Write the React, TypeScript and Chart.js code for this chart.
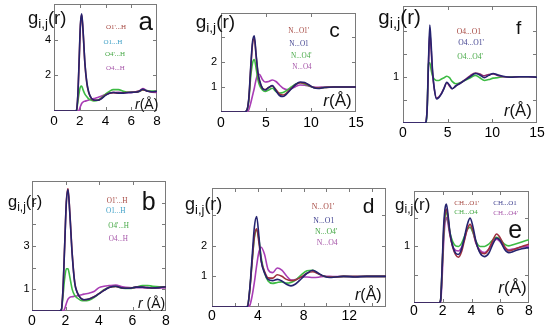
import React, { useEffect, useRef } from 'react';
import { Chart, registerables } from 'chart.js';
Chart.register(...registerables);

const NAVY = '#25236f';
const RED = '#9e2f3f';
const GREEN = '#3dbb44';
const PURPLE = '#a93db5';

const T_RED = '#a5463f';
const T_CYAN = '#3d9fc6';
const T_GREEN = '#45a845';
const T_PURPLE = '#a656a9';
const T_NAVY = '#3e3f8e';

// ---- panel a : O...H ----
const rA = [0, 1.6, 1.75, 1.85, 1.95, 2.05, 2.15, 2.25, 2.4, 2.55, 2.7, 2.9, 3.1, 3.4, 3.7, 4.0, 4.3, 4.6, 5.0, 5.4, 5.8, 6.2, 6.6, 6.9, 7.2, 7.6, 8.0];
const aO1H = [0, 0, 0.05, 0.9, 2.8, 4.85, 5.45, 4.6, 2.7, 1.6, 1.05, 0.72, 0.62, 0.6, 0.7, 0.88, 1.0, 1.04, 1.0, 1.0, 1.04, 1.05, 1.1, 1.22, 1.12, 1.08, 1.1];
const aO1pH = [0, 0, 0.05, 0.85, 2.7, 4.75, 5.4, 4.55, 2.65, 1.55, 1.02, 0.7, 0.6, 0.6, 0.72, 0.9, 1.0, 1.03, 1.0, 1.02, 1.05, 1.06, 1.1, 1.2, 1.12, 1.08, 1.1];
const aO4pH = [0, 0, 0.04, 0.5, 1.0, 1.35, 1.4, 1.2, 0.95, 0.8, 0.68, 0.6, 0.57, 0.6, 0.75, 0.95, 1.1, 1.2, 1.2, 1.1, 1.05, 1.05, 1.1, 1.18, 1.15, 1.12, 1.12];
const aO4H = [0, 0, 0, 0, 0.05, 0.25, 0.42, 0.5, 0.55, 0.58, 0.62, 0.66, 0.7, 0.76, 0.84, 0.92, 1.0, 1.04, 1.05, 1.03, 1.02, 1.05, 1.12, 1.26, 1.15, 1.05, 1.04];
const aXTicks = [0, 2, 4, 6, 8];
const aYTicks = [2, 4];
const aXLabels = [0, 2, 4, 6, 8];
const aYLabels = [2, 4];

// ---- panel b : O...H ----
const rB = [0, 1.6, 1.75, 1.85, 1.95, 2.05, 2.15, 2.25, 2.4, 2.55, 2.7, 2.9, 3.1, 3.4, 3.7, 4.0, 4.3, 4.6, 5.0, 5.4, 5.8, 6.2, 6.6, 6.9, 7.2, 7.6, 8.0];
const bO1H = [0, 0, 0.05, 1.0, 3.0, 5.0, 5.6, 4.6, 2.6, 1.3, 0.85, 0.6, 0.52, 0.55, 0.65, 0.8, 0.95, 1.08, 1.14, 1.06, 1.05, 1.1, 1.1, 1.08, 1.06, 1.08, 1.12];
const bO1pH = [0, 0, 0.05, 1.0, 3.0, 5.05, 5.65, 4.65, 2.65, 1.32, 0.86, 0.6, 0.52, 0.55, 0.66, 0.8, 0.96, 1.08, 1.13, 1.06, 1.05, 1.1, 1.1, 1.08, 1.06, 1.08, 1.12];
const bO4pH = [0, 0, 0.04, 0.7, 1.5, 1.95, 1.95, 1.6, 1.0, 0.72, 0.6, 0.5, 0.47, 0.5, 0.62, 0.8, 0.98, 1.1, 1.13, 1.05, 1.04, 1.1, 1.18, 1.18, 1.14, 1.12, 1.12];
const bO4H = [0, 0, 0, 0, 0.1, 0.35, 0.55, 0.63, 0.66, 0.68, 0.7, 0.74, 0.78, 0.82, 0.9, 1.08, 1.14, 1.17, 1.2, 1.12, 1.08, 1.07, 1.07, 1.06, 1.06, 1.06, 1.07];
const bXTicks = [0, 2, 4, 6, 8];
const bYTicks = [1, 2, 3, 4, 5];
const bXLabels = [0, 2, 4, 6, 8];
const bYLabels = [1, 3];

// ---- panel c : N...O ----
const rC = [0, 2.6, 2.9, 3.1, 3.3, 3.5, 3.7, 3.9, 4.1, 4.3, 4.6, 4.9, 5.3, 5.7, 6.1, 6.5, 6.9, 7.3, 7.8, 8.3, 8.8, 9.3, 9.8, 10.3, 10.8, 11.5, 12.5, 13.5, 15];
const cNO1 = [0, 0, 0.1, 0.6, 1.8, 2.8, 3.05, 2.3, 1.6, 1.25, 0.95, 0.88, 0.98, 1.06, 0.85, 0.66, 0.62, 0.72, 0.92, 1.1, 1.2, 1.18, 1.08, 0.97, 0.94, 0.98, 1.0, 1.0, 1.0];
const cNO1p = [0, 0, 0.1, 0.55, 1.7, 2.7, 2.95, 2.25, 1.55, 1.2, 0.95, 0.9, 0.98, 1.04, 0.9, 0.72, 0.68, 0.76, 0.94, 1.1, 1.17, 1.15, 1.06, 0.98, 0.96, 0.98, 1.0, 1.0, 1.0];
const cNO4p = [0, 0, 0.08, 0.5, 1.4, 1.95, 2.1, 1.75, 1.3, 1.05, 0.88, 0.82, 0.88, 0.95, 0.82, 0.76, 0.78, 0.86, 1.0, 1.12, 1.17, 1.12, 1.04, 0.98, 0.97, 0.98, 1.0, 1.0, 1.0];
const cNO4 = [0, 0, 0, 0.1, 0.35, 0.65, 0.95, 1.3, 1.52, 1.5, 1.3, 1.2, 1.22, 1.28, 1.22, 1.08, 0.95, 0.9, 0.93, 1.02, 1.08, 1.07, 1.03, 1.0, 0.99, 1.0, 1.0, 1.0, 1.0];
const cXTicks = [0, 5, 10, 15];
const cYTicks = [1, 2, 3];
const cXLabels = [0, 5, 10, 15];
const cYLabels = [1, 2];

// ---- panel d : N...O ----
const rD = [0, 2.9, 3.1, 3.3, 3.5, 3.7, 3.9, 4.1, 4.3, 4.6, 4.9, 5.3, 5.7, 6.1, 6.5, 6.9, 7.3, 7.8, 8.3, 8.8, 9.3, 9.8, 10.3, 10.8, 11.5, 12.5, 13.5, 15.2];
const dNO1 = [0, 0, 0.02, 0.6, 1.6, 2.6, 2.95, 2.3, 1.5, 1.1, 0.9, 0.86, 0.9, 0.85, 0.74, 0.69, 0.75, 0.92, 1.1, 1.2, 1.1, 1.0, 0.96, 0.98, 1.0, 0.98, 1.0, 1.0];
const dNO1p = [0, 0, 0.02, 0.55, 1.45, 2.3, 2.55, 2.1, 1.5, 1.15, 0.95, 0.94, 1.05, 1.0, 0.9, 0.86, 0.88, 0.98, 1.1, 1.15, 1.08, 1.0, 0.98, 0.98, 1.0, 0.99, 1.0, 1.0];
const dNO4p = [0, 0, 0.02, 0.55, 1.45, 2.25, 2.5, 2.2, 1.6, 1.1, 0.85, 0.77, 0.8, 0.82, 0.78, 0.8, 0.88, 1.05, 1.18, 1.2, 1.08, 1.0, 0.97, 0.98, 1.0, 0.99, 1.0, 1.0];
const dNO4 = [0, 0, 0, 0.05, 0.35, 0.8, 1.35, 1.8, 1.95, 1.7, 1.22, 1.12, 1.27, 1.2, 1.02, 0.88, 0.9, 0.98, 0.98, 0.96, 0.97, 1.0, 1.0, 0.99, 1.0, 1.0, 1.0, 1.0];
const dXTicks = [0, 2, 4, 6, 8, 10, 12, 14];
const dYTicks = [1, 2, 3];
const dXLabels = [0, 4, 8, 12];
const dYLabels = [1, 2];

// ---- panel e : CH...O ----
const rE = [0, 1.75, 1.85, 1.95, 2.05, 2.15, 2.25, 2.35, 2.5, 2.7, 2.9, 3.1, 3.3, 3.5, 3.7, 3.9, 4.1, 4.3, 4.6, 4.9, 5.2, 5.5, 5.75, 6.0, 6.3, 6.6, 7.0, 7.5, 8.0];
const eCHO1 = [0, 0, 0.05, 0.6, 1.3, 1.65, 1.75, 1.6, 1.25, 1.0, 0.88, 0.86, 0.95, 1.15, 1.38, 1.5, 1.35, 1.1, 0.88, 0.82, 0.88, 1.05, 1.15, 1.1, 0.95, 0.89, 0.92, 0.96, 0.98];
const eCHO1p = [0, 0, 0.05, 0.55, 1.2, 1.55, 1.66, 1.55, 1.22, 0.98, 0.85, 0.81, 0.9, 1.1, 1.3, 1.39, 1.28, 1.08, 0.9, 0.87, 0.95, 1.12, 1.22, 1.15, 1.0, 0.92, 0.95, 1.0, 1.04];
const eCHO4 = [0, 0, 0.05, 0.55, 1.15, 1.5, 1.61, 1.5, 1.25, 1.08, 1.01, 1.0, 1.05, 1.17, 1.3, 1.34, 1.25, 1.1, 1.0, 1.0, 1.04, 1.12, 1.16, 1.12, 1.04, 1.01, 1.04, 1.08, 1.12];
const eCHO4p = [0, 0, 0.02, 0.4, 1.0, 1.4, 1.51, 1.42, 1.2, 1.0, 0.93, 0.92, 0.98, 1.12, 1.3, 1.34, 1.25, 1.06, 0.93, 0.89, 0.95, 1.08, 1.13, 1.08, 0.97, 0.94, 0.96, 0.99, 1.01];
const eXTicks = [0, 2, 4, 6, 8];
const eYTicks = [0.5, 1, 1.5];
const eXLabels = [0, 2, 4, 6, 8];
const eYLabels = [1];

// ---- panel f : O4...O ----
const rF = [0, 2.5, 2.7, 2.85, 3.0, 3.15, 3.3, 3.5, 3.75, 4.0, 4.3, 4.6, 4.9, 5.2, 5.5, 5.9, 6.4, 6.9, 7.5, 8.1, 8.6, 9.1, 9.6, 10.1, 10.6, 11.2, 12, 13, 14, 15];
const fO4O1p = [0, 0, 0.3, 1.3, 2.12, 1.7, 1.15, 0.75, 0.52, 0.55, 0.63, 0.75, 0.88, 0.82, 0.74, 0.8, 0.86, 0.92, 1.0, 1.07, 1.04, 0.98, 1.03, 1.07, 1.04, 1.01, 0.99, 1.0, 1.0, 0.99];
const fO4O1 = [0, 0, 0.3, 1.25, 1.95, 1.6, 1.1, 0.74, 0.54, 0.56, 0.64, 0.76, 0.87, 0.8, 0.74, 0.8, 0.86, 0.93, 1.02, 1.08, 1.06, 1.02, 1.05, 1.06, 1.03, 1.0, 0.99, 1.0, 1.0, 0.99];
const fO4O4p = [0, 0, 0.25, 1.28, 1.3, 1.15, 1.02, 0.95, 0.92, 0.92, 0.95, 0.98, 1.01, 0.98, 0.9, 0.85, 0.87, 0.92, 0.97, 1.03, 0.98, 0.92, 0.94, 0.97, 0.98, 1.0, 1.0, 1.0, 1.0, 1.0];
const fXTicks = [0, 5, 10, 15];
const fYTicks = [0.5, 1, 1.5, 2];
const fXLabels = [0, 5, 10, 15];
const fYLabels = [1];

const SANS = '"Liberation Sans", Arial, sans-serif';
const SERIF = '"Liberation Serif", "Times New Roman", serif';
const PADL = 30, PADR = 12, PADT = 8, PADB = 26;
const FRAME = '#7a7a7a';
const TICK_TXT = '#000';

type Series = { r: number[]; g: number[]; color: string };
type PanelCfg = {
  L: number; R: number; T: number; B: number;
  xMax: number; yMax: number;
  xTicks: number[]; yTicks: number[]; xShow: number[]; yShow: number[];
  xFont: number; yFont: number; xPad: number; yPad: number;
  series: Series[];
};

const panels: PanelCfg[] = [
  { L: 54, R: 157, T: 4, B: 111, xMax: 8, yMax: 6, xTicks: aXTicks, yTicks: aYTicks, xShow: aXLabels, yShow: aYLabels, xFont: 13.5, yFont: 11, xPad: 2, yPad: 3,
    series: [{ r: rA, g: aO1H, color: NAVY }, { r: rA, g: aO1pH, color: RED }, { r: rA, g: aO4pH, color: GREEN }, { r: rA, g: aO4H, color: PURPLE }] },
  { L: 32, R: 166, T: 181, B: 311, xMax: 8, yMax: 6, xTicks: bXTicks, yTicks: bYTicks, xShow: bXLabels, yShow: bYLabels, xFont: 14, yFont: 11, xPad: 2, yPad: 2.5,
    series: [{ r: rB, g: bO1H, color: NAVY }, { r: rB, g: bO1pH, color: RED }, { r: rB, g: bO4pH, color: GREEN }, { r: rB, g: bO4H, color: PURPLE }] },
  { L: 221, R: 356, T: 13, B: 112, xMax: 15, yMax: 3.96, xTicks: cXTicks, yTicks: cYTicks, xShow: cXLabels, yShow: cYLabels, xFont: 14, yFont: 11, xPad: 3, yPad: 4,
    series: [{ r: rC, g: cNO1, color: NAVY }, { r: rC, g: cNO1p, color: RED }, { r: rC, g: cNO4p, color: GREEN }, { r: rC, g: cNO4, color: PURPLE }] },
  { L: 403, R: 537, T: 6, B: 123, xMax: 15, yMax: 2.53, xTicks: fXTicks, yTicks: fYTicks, xShow: fXLabels, yShow: fYLabels, xFont: 14, yFont: 11, xPad: 2, yPad: 4,
    series: [{ r: rF, g: fO4O1p, color: NAVY }, { r: rF, g: fO4O1, color: '#8e2a6e' }, { r: rF, g: fO4O4p, color: GREEN }] },
  { L: 212, R: 386, T: 188, B: 307, xMax: 15.2, yMax: 3.88, xTicks: dXTicks, yTicks: dYTicks, xShow: dXLabels, yShow: dYLabels, xFont: 14, yFont: 11, xPad: 1, yPad: 5,
    series: [{ r: rD, g: dNO1, color: NAVY }, { r: rD, g: dNO1p, color: RED }, { r: rD, g: dNO4p, color: GREEN }, { r: rD, g: dNO4, color: PURPLE }] },
  { L: 414, R: 529, T: 191, B: 303, xMax: 8, yMax: 1.98, xTicks: eXTicks, yTicks: eYTicks, xShow: eXLabels, yShow: eYLabels, xFont: 14, yFont: 11, xPad: 0, yPad: 4,
    series: [{ r: rE, g: eCHO1, color: NAVY }, { r: rE, g: eCHO1p, color: RED }, { r: rE, g: eCHO4, color: GREEN }, { r: rE, g: eCHO4p, color: PURPLE }] },
];

const framePlugin = {
  id: 'frame',
  beforeDatasetsDraw(chart: any) {
    const { ctx, chartArea } = chart;
    const { left, right, top, bottom } = chartArea;
    const xs = chart.scales.x, ys = chart.scales.y;
    ctx.save();
    ctx.strokeStyle = FRAME;
    ctx.lineWidth = 1;
    ctx.strokeRect(left + 0.5, top + 0.5, right - left - 1, bottom - top - 1);
    ctx.beginPath();
    const tl = 4;
    for (const t of xs.ticks) {
      if (t.value <= xs.min + 1e-6 || t.value >= xs.max - 1e-6) continue;
      const p = Math.round(xs.getPixelForValue(t.value)) + 0.5;
      ctx.moveTo(p, bottom); ctx.lineTo(p, bottom - tl);
      ctx.moveTo(p, top); ctx.lineTo(p, top + tl);
    }
    for (const t of ys.ticks) {
      if (t.value <= ys.min + 1e-6 || t.value >= ys.max - 1e-6) continue;
      const p = Math.round(ys.getPixelForValue(t.value)) + 0.5;
      ctx.moveTo(left, p); ctx.lineTo(left + tl, p);
      ctx.moveTo(right, p); ctx.lineTo(right - tl, p);
    }
    ctx.stroke();
    ctx.restore();
  },
};

const shown = (list: number[]) => (v: any) => (list.some((s) => Math.abs(s - Number(v)) < 1e-6) ? String(v) : '');
const fixTicks = (vals: number[]) => (s: any) => { s.ticks = vals.map((value) => ({ value })); };

function Panel({ cfg }: { cfg: PanelCfg }) {
  const ref = useRef<HTMLCanvasElement | null>(null);
  const W = cfg.R - cfg.L + PADL + PADR;
  const H = cfg.B - cfg.T + PADT + PADB;
  useEffect(() => {
    if (!ref.current) return;
    const chart = new Chart(ref.current, {
      type: 'line',
      data: {
        datasets: cfg.series.map((s) => ({
          data: s.r.map((x, i) => ({ x, y: s.g[i] })),
          borderColor: s.color,
          borderWidth: 1.6,
          pointRadius: 0,
          fill: false,
          cubicInterpolationMode: 'monotone' as const,
        })),
      },
      options: {
        responsive: false,
        animation: false,
        devicePixelRatio: 1,
        events: [],
        layout: { padding: { top: PADT, right: PADR, left: 0, bottom: 0 } },
        plugins: { legend: { display: false }, tooltip: { enabled: false } },
        scales: {
          x: {
            type: 'linear', min: 0, max: cfg.xMax,
            grid: { display: false, drawTicks: false },
            border: { display: false },
            ticks: { autoSkip: false, maxRotation: 0, padding: cfg.xPad,
              font: { family: SANS, size: cfg.xFont }, color: TICK_TXT, callback: shown(cfg.xShow) },
            afterBuildTicks: fixTicks(cfg.xTicks),
            afterFit: (s: any) => { s.height = PADB; s.paddingLeft = 0; s.paddingRight = 0; },
          },
          y: {
            type: 'linear', min: 0, max: cfg.yMax,
            grid: { display: false, drawTicks: false },
            border: { display: false },
            ticks: { autoSkip: false, padding: cfg.yPad,
              font: { family: SANS, size: cfg.yFont }, color: TICK_TXT, callback: shown(cfg.yShow) },
            afterBuildTicks: fixTicks(cfg.yTicks),
            afterFit: (s: any) => { s.width = PADL; s.paddingTop = 0; s.paddingBottom = 0; },
          },
        },
      } as any,
      plugins: [framePlugin],
    });
    return () => chart.destroy();
  }, []);
  return (
    <canvas ref={ref} width={W} height={H}
      style={{ position: 'absolute', left: cfg.L - PADL, top: cfg.T - PADT, width: W, height: H }} />
  );
}

function Txt({ x, base, size, color = '#111', family = SANS, children }: any) {
  return (
    <div style={{ position: 'absolute', left: x, top: base - size * 0.85, fontSize: size, lineHeight: `${size}px`,
      fontFamily: family, color, whiteSpace: 'nowrap' }}>{children}</div>
  );
}

function GLabel({ x, base, size }: any) {
  return (
    <Txt x={x} base={base} size={size}>
      g<span style={{ fontSize: '0.72em', position: 'relative', top: '0.3em' }}>i,j</span>(r)
    </Txt>
  );
}

function RLabel({ x, base, size, space }: any) {
  return (
    <Txt x={x} base={base} size={size}>
      <i>r</i>{space ? ' ' : ''}(Å)
    </Txt>
  );
}

type Leg = [string, number, number, string, number];
const legends: Leg[] = [
  ["O1'...H", 106, 30, T_RED, 7], ['O1...H', 103.5, 45, T_CYAN, 7], ["O4'...H", 105, 57.3, T_GREEN, 7], ['O4...H', 106, 70.6, T_PURPLE, 7],
  ["O1'...H", 106.7, 204, T_RED, 7.2], ['O1...H', 106, 214.6, T_CYAN, 7.2], ["O4'...H", 108.3, 229, T_GREEN, 7.2], ['O4...H', 108.7, 242.3, T_PURPLE, 7.2],
  ["N...O1'", 288.3, 34.5, T_RED, 7.2], ['N...O1', 289.3, 47.3, T_NAVY, 7.2], ["N...O4'", 291, 59, T_GREEN, 7.2], ['N...O4', 292.3, 70.6, T_PURPLE, 7.2],
  ['O4...O1', 456.7, 34.8, T_RED, 7.6], ["O4...O1'", 458.3, 45.8, T_NAVY, 7.6], ["O4...O4'", 457.3, 59.2, T_GREEN, 7.6],
  ["N...O1'", 311.7, 209.3, T_RED, 7.8], ['N...O1', 313.3, 223.6, T_NAVY, 7.8], ["N...O4'", 315, 234.3, T_GREEN, 7.8], ['N...O4', 316.7, 246, T_PURPLE, 7.8],
  ["CH...O1'", 454.3, 205.6, T_RED, 7], ['CH...O4', 454.3, 214.6, T_GREEN, 7], ['CH...O1', 493.3, 205.6, T_NAVY, 7], ["CH...O4'", 493.3, 215.6, T_PURPLE, 7],
];

export default function App() {
  return (
    <div style={{ position: 'absolute', left: 0, top: 0, width: 550, height: 329, background: '#fff', overflow: 'hidden' }}>
      {panels.map((p, i) => <Panel key={i} cfg={p} />)}
      <GLabel x={28} base={25} size={18.5} />
      <GLabel x={8} base={207} size={16.5} />
      <GLabel x={195.7} base={28} size={19} />
      <GLabel x={378.3} base={24.5} size={20.5} />
      <GLabel x={185} base={210} size={18} />
      <GLabel x={395} base={210} size={17} />
      <Txt x={138.5} base={30.5} size={26}>a</Txt>
      <Txt x={141.7} base={210} size={25}>b</Txt>
      <Txt x={329.3} base={37.3} size={21}>c</Txt>
      <Txt x={362.7} base={213.3} size={21}>d</Txt>
      <Txt x={508.3} base={238} size={25}>e</Txt>
      <Txt x={516} base={34} size={19}>f</Txt>
      <RLabel x={135} base={109} size={14} />
      <RLabel x={138} base={307.5} size={14} space />
      <RLabel x={323.3} base={106.5} size={17} />
      <RLabel x={504} base={117.2} size={16.6} />
      <RLabel x={355} base={301} size={16} />
      <RLabel x={498.3} base={293} size={17} />
      {legends.map(([t, x, b, c, s], i) => (
        <Txt key={'l' + i} x={x} base={b} size={s} color={c} family={SERIF}>{t}</Txt>
      ))}
    </div>
  );
}
